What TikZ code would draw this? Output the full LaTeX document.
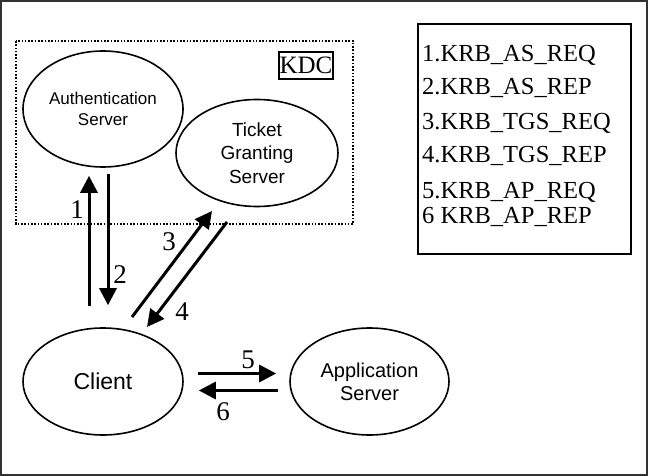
\documentclass[tikz,border=0pt]{standalone}
\usepackage{fontspec}
\setmainfont{Liberation Serif}
\setsansfont{Liberation Sans}
\usepackage{xcolor}
\usepackage{tikz}
\definecolor{kframe}{RGB}{50, 50, 50}
\usetikzlibrary{arrows.meta,positioning,shapes.geometric,calc}

\begin{document}
\begin{tikzpicture}[x=1pt, y=-1pt,
    server/.style={draw, ellipse, line width=1.6pt, inner sep=0pt, align=center, font=\sffamily},
    arr/.style={-{Triangle[length=17pt, width=17pt]}, line width=3pt},
    num/.style={font=\fontsize{27}{29}\selectfont},
    legend/.style={anchor=base west, inner sep=0pt, font=\fontsize{24.5}{27}\selectfont}]
    \useasboundingbox (0,0) rectangle (648,476);
    \draw[kframe, line width=2pt] (1,1) rectangle (647,475);

    % KDC region
    \draw[line width=1.6pt, dash pattern=on 1.6pt off 1.7pt] (16,41) rectangle (353,224);
    \node[draw, line width=1.8pt, minimum width=54pt, minimum height=27pt, inner sep=0pt,
          font=\fontsize{25}{27}\selectfont] (kdc) at (306,65.5) {KDC};

    % Servers and client
    \node[server, minimum width=160pt, minimum height=116pt,
          font=\sffamily\fontsize{17}{21}\selectfont] (auth) at (103,109) {Authentication\\Server};
    \node[server, minimum width=162pt, minimum height=107pt,
          font=\sffamily\fontsize{19}{23.5}\selectfont] (tgs) at (257,153) {Ticket\\Granting\\Server};
    \node[server, minimum width=160pt, minimum height=107pt,
          font=\sffamily\fontsize{23}{26}\selectfont] (client) at (103,381.5) {Client};
    \node[server, minimum width=159pt, minimum height=107pt,
          font=\sffamily\fontsize{20}{23}\selectfont] (app) at (369.5,381.5) {Application\\Server};

    % Message flow
    \draw[arr, shorten <=21pt, shorten >=8pt] ([xshift=-14pt]client.north) -- ([xshift=-14pt]auth.south);
    \draw[arr, shorten <=6pt, shorten >=22pt] ([xshift=5pt]auth.south) -- ([xshift=5pt]client.north);
    \coordinate (tgsreq) at (132,317);
    \coordinate (tgsin) at (212,211);
    \coordinate (tgsrep) at (227,222);
    \coordinate (clientin) at (147,327);
    \draw[arr] (tgsreq) -- (tgsin);
    \draw[arr] (tgsrep) -- (clientin);
    \draw[arr, shorten <=14pt, shorten >=13pt] ([yshift=8pt]client.east) -- ([yshift=8pt]app.west);
    \draw[arr, shorten <=11pt, shorten >=15pt] ([yshift=-9pt]app.west) -- ([yshift=-9pt]client.east);

    \foreach \n/\x/\y in {1/77/210, 2/120/275, 3/169/242, 4/182/312, 5/248/360, 6/223/412}
        \node[num] (n\n) at (\x,\y) {\n};

    % Message legend
    \draw[line width=2pt] (418,24) rectangle (631,254);
    \foreach \i/\msg/\y in {1/1.KRB\_AS\_REQ/62, 2/2.KRB\_AS\_REP/95, 3/3.KRB\_TGS\_REQ/130,
                            4/4.KRB\_TGS\_REP/163, 5/5.KRB\_AP\_REQ/198, 6/6 KRB\_AP\_REP/223}
        \node[legend] (msg\i) at (422,\y) {\msg};
\end{tikzpicture}
\end{document}
